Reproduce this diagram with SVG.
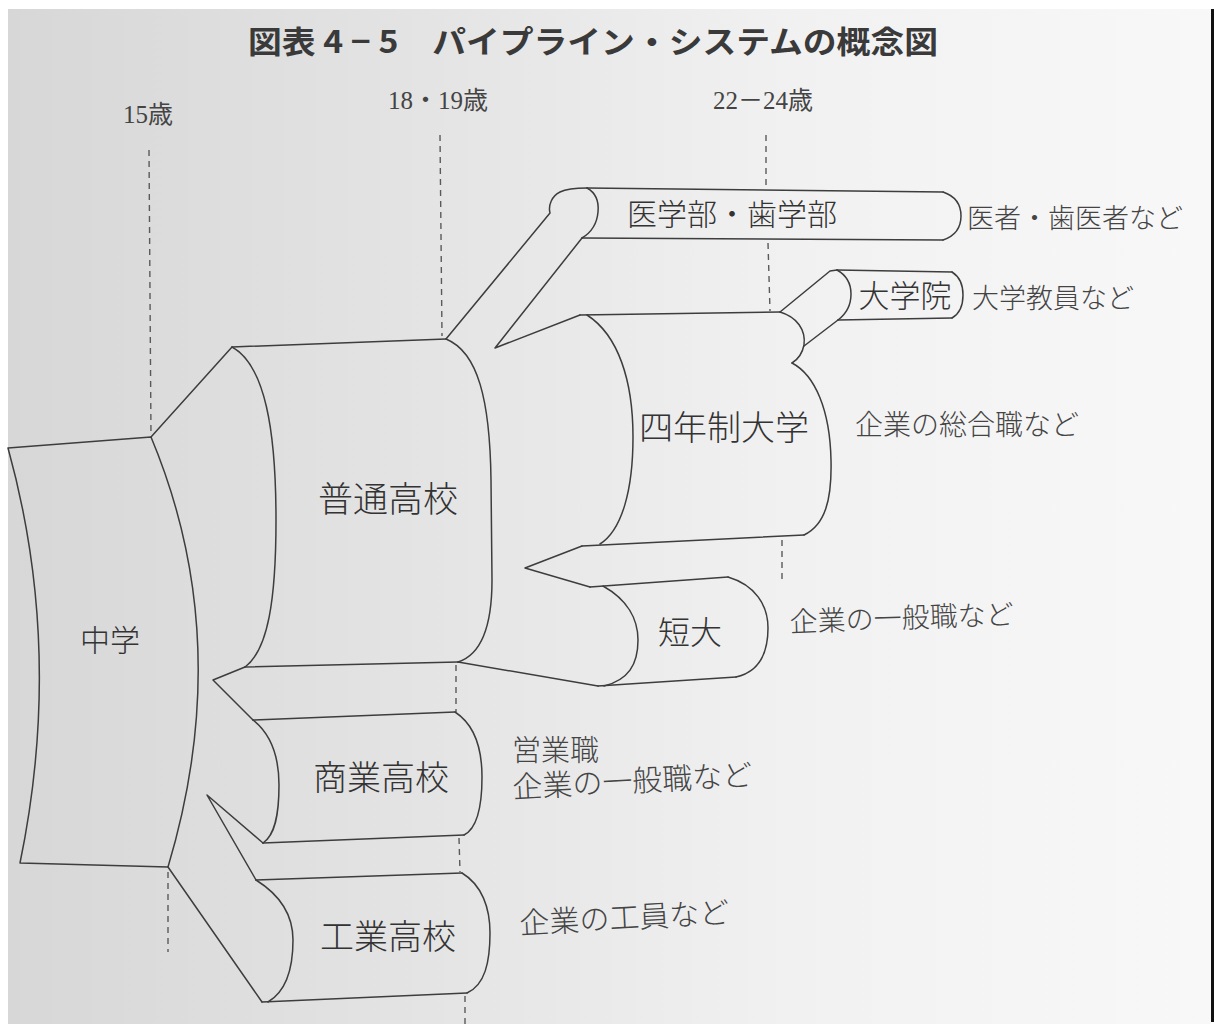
<svg xmlns="http://www.w3.org/2000/svg" width="1214" height="1025" viewBox="0 0 1214 1025">
<defs>
<linearGradient id="paper" x1="0" y1="0" x2="1" y2="0">
<stop offset="0" stop-color="#d7d7d7"/>
<stop offset="0.35" stop-color="#e4e4e4"/>
<stop offset="0.65" stop-color="#f1f1f1"/>
<stop offset="1" stop-color="#f8f8f8"/>
</linearGradient>
<style>
.pipe{fill:none;stroke:#3d3d3d;stroke-width:1.5;stroke-linejoin:round;stroke-linecap:round}
.dash{fill:none;stroke:#5a5a5a;stroke-width:1.4;stroke-dasharray:6 5}
.lbl{font-family:"Noto Sans CJK JP","Noto Sans CJK SC",sans-serif;font-weight:300;fill:#333;text-anchor:middle}
.out{font-family:"Noto Sans CJK JP","Noto Sans CJK SC",sans-serif;font-weight:300;fill:#444}
.age{font-family:"Liberation Serif","Noto Sans CJK JP",serif;fill:#444;font-size:25px;text-anchor:middle}
.title{font-family:"Noto Sans CJK JP","Noto Sans CJK SC",sans-serif;font-weight:bold;fill:#3a3a3a;font-size:31px}
</style>
</defs>
<rect x="0" y="0" width="1214" height="1025" fill="#ffffff"/>
<rect x="8" y="9" width="1203" height="1015" fill="url(#paper)"/>
<rect x="1211" y="9" width="3" height="1013" fill="#111"/>

<text class="title" x="248" y="53" textLength="690" lengthAdjust="spacingAndGlyphs">図表 4 − 5　パイプライン・システムの概念図</text>

<g id="ages">
<text class="age" x="148" y="123">15歳</text>
<text class="age" x="438" y="109">18・19歳</text>
<text class="age" x="763" y="109">22－24歳</text>
</g>

<g id="guides">
<line class="dash" x1="149" y1="150" x2="151" y2="436"/>
<line class="dash" x1="168" y1="872" x2="168" y2="952"/>
<line class="dash" x1="440" y1="135" x2="442" y2="336"/>
<line class="dash" x1="456" y1="665" x2="456" y2="712"/>
<line class="dash" x1="459" y1="838" x2="460" y2="872"/>
<line class="dash" x1="465" y1="996" x2="465" y2="1025"/>
<line class="dash" x1="766" y1="135" x2="766" y2="188"/>
<line class="dash" x1="768" y1="243" x2="770" y2="311"/>
<line class="dash" x1="782" y1="540" x2="782" y2="580"/>
</g>

<g id="connectors">
<path class="pipe" d="M151,437 L232,347"/>
<path class="pipe" d="M245,667 L213,680 L253,720"/>
<path class="pipe" d="M263,843 L207,795 L256,880"/>
<path class="pipe" d="M168,867 L262,1002"/>
<path class="pipe" d="M446,339 L550,213 C548,205 552,196 560,192 C566,189 575,188 587,188"/>
<path class="pipe" d="M582,238 L495,348 L580,315"/>
<path class="pipe" d="M780,312 L830,271 L837,270"/>
<path class="pipe" d="M838,320 L804,346"/>
<path class="pipe" d="M582,546 L525,568 L590,587"/>
<path class="pipe" d="M458,662 L598,686"/>
</g>

<g id="chugaku">
<path class="pipe" d="M8,448 L151,437 Q236,640 168,867 L20,863 Q64,650 8,448 Z"/>
<text class="lbl" x="110" y="651" font-size="30">中学</text>
</g>

<g id="futsu">
<path class="pipe" d="M232,347 L446,339"/>
<path class="pipe" d="M232,347 C265,365 276,430 276,520 C276,600 268,650 245,667"/>
<path class="pipe" d="M446,339 C478,352 490,400 491,480 L492,580 C492,630 480,655 458,662"/>
<path class="pipe" d="M245,667 L458,662"/>
<text class="lbl" x="388" y="512" font-size="35">普通高校</text>
</g>

<g id="shogyo">
<path class="pipe" d="M253,720 L455,712"/>
<path class="pipe" d="M253,720 C272,735 279,760 279,785 C279,815 275,835 263,843"/>
<path class="pipe" d="M455,712 C475,725 482,750 482,777 C482,805 478,828 464,835"/>
<path class="pipe" d="M263,843 L464,835"/>
<text class="lbl" x="381" y="790" font-size="34">商業高校</text>
</g>

<g id="kogyo">
<path class="pipe" d="M256,880 L462,873"/>
<path class="pipe" d="M256,880 C280,895 293,915 293,940 C293,970 285,992 268,1002"/>
<path class="pipe" d="M462,873 C482,885 490,908 490,933 C490,962 485,985 467,993"/>
<path class="pipe" d="M262,1002 L467,993"/>
<text class="lbl" x="388" y="949" font-size="34">工業高校</text>
</g>

<g id="igakubu">
<path class="pipe" d="M587,188 L943,192"/>
<path class="pipe" d="M587,188 C596,193 599,202 598,212 C597,224 592,232 582,238"/>
<path class="pipe" d="M582,238 L943,240"/>
<path class="pipe" d="M943,192 C955,196 961,205 961,216 C961,228 955,236 943,240"/>
<text class="lbl" x="732" y="225" font-size="30">医学部・歯学部</text>
</g>

<g id="daigakuin">
<path class="pipe" d="M837,270 L952,272"/>
<path class="pipe" d="M837,270 C846,275 851,284 851,294 C851,305 846,314 838,320"/>
<path class="pipe" d="M838,320 L952,318"/>
<path class="pipe" d="M952,272 C960,277 963,286 963,295 C963,306 959,314 952,318"/>
<text class="lbl" x="905" y="307" font-size="31">大学院</text>
</g>

<g id="yonensei">
<path class="pipe" d="M580,315 L780,312"/>
<path class="pipe" d="M587,315 C618,335 633,380 633,437 C633,490 622,530 600,544"/>
<path class="pipe" d="M582,546 L804,535"/>
<path class="pipe" d="M780,312 C797,317 806,330 804,345 C802,355 797,360 792,363"/>
<path class="pipe" d="M792,363 C815,375 830,410 831,460 C832,500 825,525 804,535"/>
<text class="lbl" x="724" y="440" font-size="34">四年制大学</text>
</g>

<g id="tandai">
<path class="pipe" d="M590,587 L728,577"/>
<path class="pipe" d="M603,586 C628,600 638,620 638,640 C638,665 628,680 604,686"/>
<path class="pipe" d="M598,686 L736,677"/>
<path class="pipe" d="M728,577 C755,585 768,605 768,628 C768,655 758,672 736,677"/>
<text class="lbl" x="690" y="644" font-size="32">短大</text>
</g>

<g id="outcomes">
<text class="out" x="967" y="228" font-size="27">医者・歯医者など</text>
<text class="out" x="972" y="308" font-size="27">大学教員など</text>
<text class="out" x="855" y="435" font-size="28">企業の総合職など</text>
<text class="out" x="790" y="632" font-size="28" transform="rotate(-2 790 632)">企業の一般職など</text>
<text class="out" x="512" y="761" font-size="29">営業職</text>
<text class="out" x="513" y="798" font-size="30" transform="rotate(-3 513 798)">企業の一般職など</text>
<text class="out" x="520" y="934" font-size="30" transform="rotate(-3 520 934)">企業の工員など</text>
</g>
</svg>
